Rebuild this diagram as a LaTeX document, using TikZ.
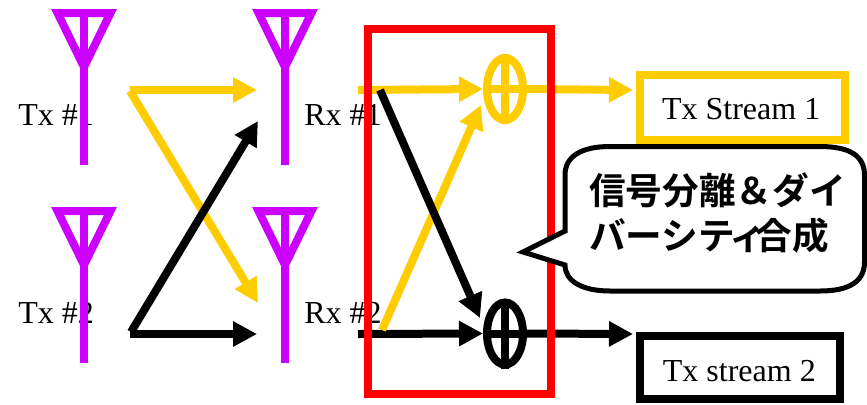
\documentclass[tikz,border=0pt]{standalone}
\usepackage{fontspec}
\setmainfont{Liberation Serif}
\newfontfamily\cjkfont{Noto Sans CJK JP}[BoldFont={* Bold}]
\usetikzlibrary{arrows.meta,shapes.geometric}
\definecolor{antennacol}{HTML}{cc00ff}
\definecolor{streamcol}{HTML}{ffcc00}
\definecolor{framecol}{HTML}{ff0000}

\tikzset{
  antenna/.pic={
    \draw[antennacol, line width=6pt, line join=miter] (57.5,13) -- (110.5,13) -- (84,67) -- cycle;
    \draw[antennacol, line width=6pt] (84,13) -- (84,165);
  },
  label/.style={anchor=base west, inner sep=0pt, font=\fontsize{24}{28}\selectfont},
  link/.style={line width=6pt, -{Triangle[length=18pt,width=18pt]}},
  combiner/.style={draw, ellipse, line width=6pt, minimum width=27pt, minimum height=46.5pt, inner sep=0pt},
  streambox/.style={draw, line width=6pt, inner sep=0pt, text depth=0pt, font=\fontsize{24}{28}\selectfont},
}

\begin{document}
\begin{tikzpicture}[x=0.75pt, y=-0.75pt, >=Latex]
\useasboundingbox (0,0) rectangle (867,404);

\node[label] (txa) at (18,125) {Tx \#1};
\node[label] (txb) at (18,323) {Tx \#2};
\node[label] (rxa) at (304,125) {Rx \#1};
\node[label] (rxb) at (304,323) {Rx \#2};

\pic at (0,0) {antenna};
\pic at (0,198) {antenna};
\pic at (201,0) {antenna};
\pic at (201,198) {antenna};

\coordinate (txaout) at (130,90);
\coordinate (txacross) at (130,91);
\coordinate (txbout) at (130,334);
\coordinate (txbcross) at (131,332);
\coordinate (rxain) at (257,90);
\coordinate (rxacross) at (258,121);
\coordinate (rxbin) at (257,334);
\coordinate (rxbcross) at (258,303);
\coordinate (rxaout) at (358,90);
\coordinate (rxbout) at (358,334);
\coordinate (rxaback) at (380,90);
\coordinate (rxbback) at (382,330);
\coordinate (outa) at (633,90);
\coordinate (outb) at (633,334);

\node[combiner, streamcol] (coma) at (505,89) {};
\node[combiner, black] (comb) at (505,333.5) {};
\draw[streamcol, line width=6pt] (coma.north) -- (coma.south);
\draw[streamcol, line width=6pt] (coma.west) -- (coma.east);
\draw[black, line width=6pt] (comb.north) -- (comb.south);
\draw[black, line width=6pt] (comb.west) -- (comb.east);

\draw[link, streamcol] (txacross) -- (rxbcross);
\draw[link, streamcol] (txaout) -- (rxain);
\draw[link, black] (txbcross) -- (rxacross);
\draw[link, black] (txbout) -- (rxbin);

\draw[link, streamcol] (rxaout) -- (coma.west);
\draw[link, black] (rxbout) -- (comb.west);
\draw[link, streamcol] (coma.east) -- (outa);
\draw[link, black] (comb.east) -- (outb);

\draw[framecol, line width=6pt] (368,29) rectangle (550.5,394);

\draw[link, streamcol] (rxbback) -- (481,105);
\draw[link, black] (rxaback) -- (480,318);

\node[streambox, streamcol, minimum width=153.75pt, minimum height=48.75pt, text height=17.25pt, text=black] (streama) at (742.5,107.5) {\hspace*{-2pt}Tx Stream 1};
\node[streambox, black, minimum width=150pt, minimum height=47.25pt, text height=20.25pt] (streamb) at (740,367.5) {\hspace*{-1pt}Tx stream 2};

\draw[black, fill=white, line width=3.75pt, line join=miter]
  (610,146.5) -- (820,146.5) .. controls (850,146.5) and (864.5,156) .. (864.5,175)
  -- (864.5,262) .. controls (864.5,281) and (850,291) .. (820,291)
  -- (610,291) .. controls (582,291) and (565,281) .. (565,265)
  -- (523,252) -- (565,231) -- (565,175) .. controls (565,156) and (582,146.5) .. (610,146.5) -- cycle;
\node[anchor=west, align=left, inner sep=0pt, font=\cjkfont\bfseries\fontsize{27.5}{34}\selectfont] (note) at (589,213) {信号分離＆ダイ\\バーシテ\hspace{-4pt}ィ\hspace{-8pt}合成};
\end{tikzpicture}
\end{document}
